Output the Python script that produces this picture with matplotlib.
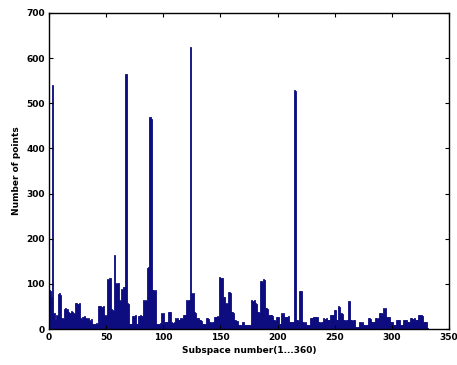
import matplotlib
matplotlib.use("Agg")
import matplotlib.pyplot as plt
import numpy as np

counts = [
    86, 84, 70, 540, 35, 20, 30, 28, 78, 80,
    75, 24, 22, 44, 46, 42, 44, 38, 36, 40,
    38, 35, 33, 57, 58, 55, 57, 24, 22, 26,
    27, 28, 25, 22, 24, 20, 18, 22, 12, 10,
    12, 14, 12, 50, 52, 51, 48, 52, 31, 28,
    30, 110, 108, 112, 45, 42, 40, 164, 101, 100,
    102, 64, 62, 88, 86, 94, 92, 565, 57, 55,
    12, 12, 10, 29, 28, 30, 12, 12, 29, 28,
    30, 28, 64, 62, 65, 62, 135, 138, 470, 465,
    86, 86, 84, 86, 12, 10, 12, 14, 35, 34,
    36, 16, 15, 16, 38, 37, 38, 16, 14, 16,
    24, 23, 24, 20, 20, 24, 22, 31, 30, 32,
    64, 62, 65, 625, 79, 78, 80, 38, 36, 24,
    24, 20, 20, 18, 12, 12, 10, 24, 24, 22,
    16, 16, 14, 16, 27, 27, 26, 28, 27, 115,
    112, 114, 72, 70, 57, 56, 58, 83, 80, 38,
    38, 36, 20, 20, 18, 9, 9, 8, 9, 16,
    16, 9, 9, 8, 9, 9, 9, 64, 62, 64,
    57, 56, 38, 38, 36, 107, 105, 110, 108, 46,
    46, 44, 31, 30, 31, 29, 20, 20, 18, 27,
    27, 12, 12, 35, 34, 35, 27, 26, 27, 28,
    16, 16, 15, 16, 530, 528, 20, 20, 18, 85,
    84, 16, 16, 14, 16, 9, 9, 8, 24, 24,
    24, 27, 27, 26, 27, 16, 16, 14, 16, 16,
    24, 23, 24, 20, 20, 20, 31, 30, 31, 42,
    42, 20, 20, 50, 48, 35, 34, 20, 20, 18,
    20, 20, 61, 20, 20, 18, 20, 20, 5, 5,
    5, 16, 16, 14, 16, 9, 9, 8, 9, 24,
    24, 22, 16, 16, 16, 24, 24, 22, 24, 35,
    35, 34, 46, 44, 46, 27, 27, 26, 16, 16,
    16, 9, 9, 8, 20, 20, 19, 9, 9, 8,
    20, 20, 19, 16, 16, 16, 24, 24, 23, 24,
    20, 20, 19, 31, 30, 31, 29, 16, 16, 15,
    16, 3,
]
subspace = np.arange(len(counts))

xticks = [0, 50, 100, 150, 200, 250, 300, 350]
yticks = [0, 100, 200, 300, 400, 500, 600, 700]

fig = plt.figure(figsize=(4.57, 3.65), dpi=100)
ax = fig.add_axes([0.107, 0.0986, 0.8755, 0.8658])
ax.bar(subspace, counts, width=1.0, align='edge', color='#0c0c80',
       edgecolor='#0c0c80', linewidth=0.6)
ax.set_xlim(0, 350)
ax.set_ylim(0, 700)
ax.set_xticks(xticks)
ax.set_yticks(yticks)
ax.tick_params(direction='in', length=3, width=0.8, top=True, right=True,
               labelsize=6.5, pad=3)
for lab in ax.get_xticklabels() + ax.get_yticklabels():
    lab.set_fontweight('bold')
for s in ax.spines.values():
    s.set_linewidth(1.0)
ax.set_xlabel('Subspace number(1...360)', fontsize=6.5, fontweight='bold', labelpad=3)
ax.set_ylabel('Number of points', fontsize=6.5, fontweight='bold', labelpad=4)
fig.savefig('out.png', dpi=100)
